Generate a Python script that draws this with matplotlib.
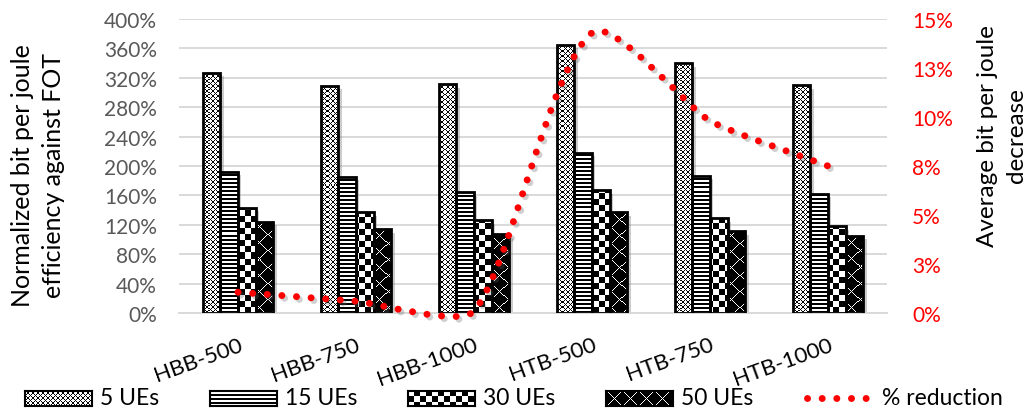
import numpy as np
import matplotlib
matplotlib.use("Agg")
import matplotlib.pyplot as plt
import matplotlib.patheffects as pe
from matplotlib.path import Path
from matplotlib.patches import PathPatch
from matplotlib.lines import Line2D

# ---- data -------------------------------------------------------------
categories = ["HBB-500", "HBB-750", "HBB-1000", "HTB-500", "HTB-750", "HTB-1000"]
series_names = ["5 UEs", "15 UEs", "30 UEs", "50 UEs"]
ue5 = [327, 309, 311, 365, 340, 310]
ue15 = [192, 185, 164, 218, 187, 162]
ue30 = [143, 137, 126, 167, 129, 118]
ue50 = [124, 114, 107, 137, 111, 105]
reduction = [1.06, 0.6, 0.1, 14.3, 9.8, 7.5]      # % reduction (right axis)
left_ticks = list(range(0, 401, 40))
right_ticks = [0, 2.5, 5, 7.5, 10, 12.5, 15]
right_labels = ["0%", "3%", "5%", "8%", "10%", "13%", "15%"]

plt.rcParams["font.family"] = ["Lato", "DejaVu Sans"]

W, H = 1032, 414
fig = plt.figure(figsize=(W / 100, H / 100), dpi=100)
AX_L, AX_B, AX_W, AX_H = 179, 100, 708, 294
ax = fig.add_axes([AX_L / W, AX_B / H, AX_W / W, AX_H / H])
ax.set_xlim(-0.5, 5.5)
ax.set_ylim(0, 400)


def texture(kind, h, w):
    """Pixel fill patterns for the four bar series (1 = black)."""
    y, x = np.mgrid[0:h, 0:w]
    if kind == 0:   # fine diamond lattice
        return (((x + y) % 5 == 0) | ((x - y) % 5 == 0)).astype(float)
    if kind == 1:   # horizontal stripes
        return (y % 4 < 2).astype(float)
    if kind == 2:   # checkerboard
        return (((x // 6) + (y // 6)) % 2).astype(float)
    # black with white diagonal lattice
    return 1.0 - (((x + y) % 16 == 0) | ((x - y) % 16 == 0)).astype(float)


series = [ue5, ue15, ue30, ue50]
xpos = np.arange(len(categories))
width = 0.15
offsets = (np.arange(len(series)) - 1.5) * width
shadow = [pe.SimplePatchShadow(offset=(2.5, -2.5), shadow_rgbFace="0.5", alpha=0.4), pe.Normal()]

for k, vals in enumerate(series):
    tex = texture(k, AX_H, AX_W)
    base = ax.bar(xpos + offsets[k], vals, width, color="white", edgecolor="none",
                  zorder=2, path_effects=shadow)
    for b in base:
        im = ax.imshow(tex, cmap="binary", vmin=0, vmax=1, interpolation="nearest",
                       aspect="auto", extent=(-0.5, 5.5, 0, 400), zorder=2.5)
        im.set_clip_path(b)
    ax.bar(xpos + offsets[k], vals, width, facecolor="none", edgecolor="black",
           linewidth=2, zorder=3)

ax.set_xlim(-0.5, 5.5)
ax.set_ylim(0, 400)
ax.grid(axis="y", color="#d9d9d9", linewidth=1.4)
ax.set_axisbelow(True)
for s in ("top", "left", "right"):
    ax.spines[s].set_visible(False)
ax.spines["bottom"].set_color("#d9d9d9")
ax.spines["bottom"].set_linewidth(1.4)

ax.set_yticks(left_ticks, [f"{t}%" for t in left_ticks])
ax.tick_params(axis="y", length=0, pad=16, labelsize=15, labelcolor="#595959")
ax.set_xticks(xpos, categories, rotation=20, ha="right", va="top", rotation_mode="anchor")
ax.tick_params(axis="x", length=0, pad=15, labelsize=16)

# ---- smoothed % reduction line on the secondary axis -------------------
ax2 = ax.twinx()
ax2.set_ylim(0, 15)
ax2.set_xlim(-0.5, 5.5)
for s in ax2.spines.values():
    s.set_visible(False)
ax2.set_yticks(right_ticks, right_labels)
ax2.tick_params(axis="y", length=0, pad=18, labelsize=15, labelcolor="red")

sx = AX_W / len(categories)      # px per category
sy = AX_H / 15.0                 # px per percent
P = np.column_stack([xpos * sx, np.asarray(reduction) * sy])
n = len(P)
tang = np.zeros_like(P)
for i in range(n):
    a = P[max(i - 1, 0)]
    b = P[min(i + 1, n - 1)]
    d = b - a
    tang[i] = d / np.hypot(*d)
verts = [P[0]]
codes = [Path.MOVETO]
kt = 0.18
for i in range(n - 1):
    seg = np.hypot(*(P[i + 1] - P[i]))
    verts += [P[i] + tang[i] * seg * kt, P[i + 1] - tang[i + 1] * seg * kt, P[i + 1]]
    codes += [Path.CURVE4] * 3
verts = np.array(verts) / [sx, sy]
curve = PathPatch(Path(verts, codes), fill=False, edgecolor="red", linewidth=5,
                  linestyle=(0, (0.01, 2.1)), capstyle="round", clip_on=False, zorder=4,
                  path_effects=[pe.SimpleLineShadow(offset=(2, -2), shadow_color="0.4", alpha=0.3),
                                pe.Normal()])
ax2.add_patch(curve)

# ---- axis titles --------------------------------------------------------
fig.text(38 / W, 1 - 176 / H, "Normalized bit per joule\nefficiency against FOT",
         rotation=90, ha="center", va="center", multialignment="center",
         fontsize=18, linespacing=1.4)
fig.text(1002 / W, 1 - 136 / H, "Average bit per joule\ndecrease",
         rotation=90, ha="center", va="center", multialignment="center",
         fontsize=17.5, linespacing=1.45)

# ---- legend -------------------------------------------------------------
leg_y = 15
sw_x = [25, 210, 408, 606]
for k, name in enumerate(series_names):
    sw = fig.add_axes([sw_x[k] / W, 7.5 / H, 67 / W, 15 / H])
    sw.imshow(texture(k, 15, 67), cmap="binary", vmin=0, vmax=1,
              interpolation="nearest", aspect="auto")
    sw.set_xticks([])
    sw.set_yticks([])
    for s in sw.spines.values():
        s.set_linewidth(1.5)
    fig.text((sw_x[k] + 75) / W, leg_y / H, name, va="center", ha="left", fontsize=16.5)

fig.add_artist(Line2D([807 / W, 866 / W], [leg_y / H, leg_y / H], transform=fig.transFigure,
                      color="red", linewidth=5, linestyle=(0, (0.01, 2.1)),
                      dash_capstyle="round"))
fig.text(882 / W, leg_y / H, "% reduction", va="center", ha="left", fontsize=16.5)

fig.savefig("out.png", dpi=100)
